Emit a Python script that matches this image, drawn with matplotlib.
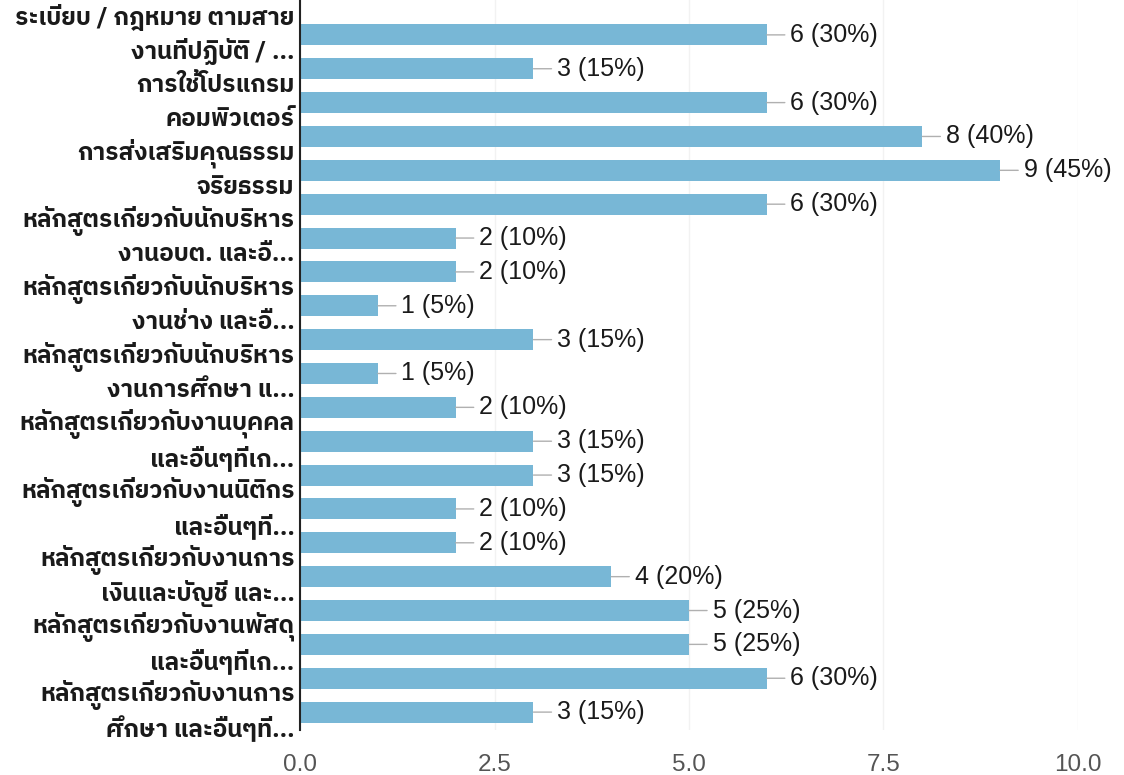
import matplotlib
matplotlib.use("Agg")
import matplotlib.pyplot as plt
from matplotlib import font_manager
from matplotlib.ft2font import FT2Font

# data (top to bottom)
values = [6, 3, 6, 8, 9, 6, 2, 2, 1, 3, 1, 2, 3, 3, 2, 2, 4, 5, 5, 6, 3]
total = 20

# one two-line label for every other bar
label_lines = [
    ("ระเบียบ / กฎหมาย ตามสาย", "งานที่ปฏิบัติ / ..."),
    ("การใช้โปรแกรม", "คอมพิวเตอร์"),
    ("การส่งเสริมคุณธรรม", "จริยธรรม"),
    ("หลักสูตรเกี่ยวกับนักบริหาร", "งานอบต. และอื..."),
    ("หลักสูตรเกี่ยวกับนักบริหาร", "งานช่าง และอื..."),
    ("หลักสูตรเกี่ยวกับนักบริหาร", "งานการศึกษา แ..."),
    ("หลักสูตรเกี่ยวกับงานบุคคล", "และอื่นๆที่เก..."),
    ("หลักสูตรเกี่ยวกับงานนิติกร", "และอื่นๆที่..."),
    ("หลักสูตรเกี่ยวกับงานการ", "เงินและบัญชี และ..."),
    ("หลักสูตรเกี่ยวกับงานพัสดุ", "และอื่นๆที่เก..."),
    ("หลักสูตรเกี่ยวกับงานการ", "ศึกษา และอื่นๆที..."),
]
x_ticks = [0, 2.5, 5, 7.5, 10]


def find_thai_font():
    found = []
    for f in font_manager.fontManager.ttflist:
        try:
            cmap = FT2Font(f.fname).get_charmap()
        except Exception:
            continue
        if 0x0E01 in cmap:
            found.append(f)
    if not found:
        return None
    def score(f):
        s = 0
        if "thai" in f.name.lower():
            s += 2
        if "sans" in f.name.lower():
            s += 1
        return s
    found.sort(key=score, reverse=True)
    return found[0].name


thai_font = find_thai_font()
label_family = [thai_font, "DejaVu Sans"] if thai_font else ["DejaVu Sans"]

fig = plt.figure(figsize=(11.24, 7.75), dpi=100)
ax = fig.add_axes([0.267, 0.058, 0.692, 0.942])

ypos = list(range(len(values)))
ax.barh(ypos, values, height=0.62, color="#78b7d6", zorder=2)

for y, v in zip(ypos, values):
    ax.annotate(f"{v} ({v * 100 // total}%)", xy=(v, y), xytext=(17, 0),
                textcoords="offset points", va="center", ha="left",
                fontsize=18, color="#1a1a1a", family="Liberation Sans",
                arrowprops=dict(arrowstyle="-", color="#b0b0b0", lw=1,
                                shrinkA=2, shrinkB=0))

for k, (l1, l2) in enumerate(label_lines):
    yc = 2 * k
    ax.text(-0.007, yc - 0.5, l1, transform=ax.get_yaxis_transform(),
            ha="right", va="center", fontsize=17.5, fontweight="bold",
            family=label_family, color="#1a1a1a")
    ax.text(-0.007, yc + 0.5, l2, transform=ax.get_yaxis_transform(),
            ha="right", va="center", fontsize=17.5, fontweight="bold",
            family=label_family, color="#1a1a1a")

ax.set_xlim(0, 10)
ax.set_ylim(len(values) - 1 + 0.53, -1.03)
ax.set_yticks([])
ax.set_xticks(x_ticks)
ax.set_xticklabels([f"{t:.1f}" for t in x_ticks], fontsize=17.5,
                   color="#555555", family="Liberation Sans")
ax.tick_params(axis="x", length=0, pad=17)
ax.grid(axis="x", color="#f2f2f2", lw=1, zorder=0)

for s in ["top", "right", "bottom"]:
    ax.spines[s].set_visible(False)
ax.spines["left"].set_color("#222222")
ax.spines["left"].set_linewidth(1.5)
ax.spines["left"].set_zorder(3)

fig.savefig("out.png", dpi=100)
